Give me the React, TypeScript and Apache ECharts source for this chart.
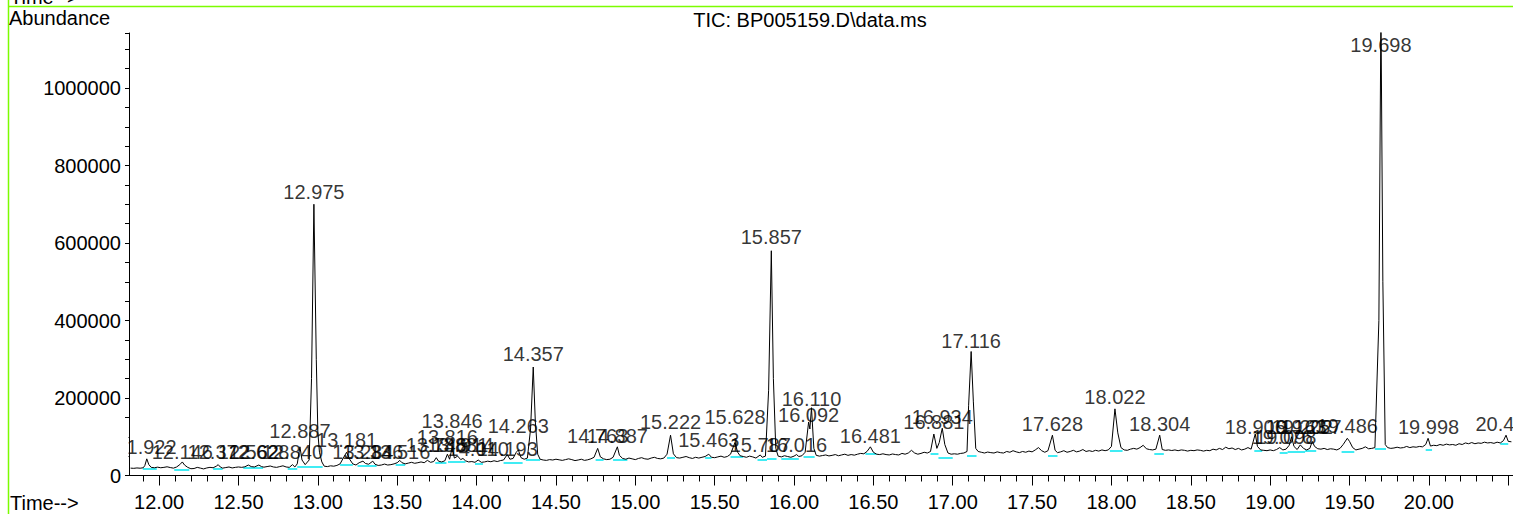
import React, { useEffect, useRef } from "react";
import * as echarts from "echarts";

// Chromatogram trace: [retention time (min), abundance (thousands)]
const trace: [number, number][] = [
  [11.82, 19], [11.84, 18.5], [11.86, 19.5], [11.88, 18.8], [11.9, 20], [11.91, 26], [11.922, 43], [11.935, 28], [11.95, 21], [11.97, 20], [11.99, 21.5],
  [12.01, 20], [12.03, 21], [12.05, 22.5], [12.07, 20.5], [12.09, 19], [12.11, 22], [12.13, 28], [12.146, 35], [12.16, 27], [12.18, 21], [12.2, 17.5],
  [12.22, 18], [12.24, 21], [12.26, 19], [12.28, 17], [12.3, 19.5], [12.32, 21], [12.34, 20], [12.36, 24], [12.372, 28], [12.385, 22], [12.4, 19],
  [12.42, 20.5], [12.44, 22], [12.46, 19.5], [12.48, 21], [12.5, 22], [12.52, 21], [12.54, 22.5], [12.562, 27], [12.58, 23], [12.6, 22], [12.628, 27],
  [12.645, 23], [12.66, 21.5], [12.68, 23], [12.7, 24.5], [12.72, 22], [12.74, 21], [12.76, 23], [12.78, 25], [12.8, 22], [12.82, 21], [12.84, 28],
  [12.855, 22], [12.87, 30], [12.887, 74], [12.9, 40], [12.92, 28], [12.945, 40], [12.96, 250], [12.975, 700], [12.99, 300], [13.0, 110], [13.01, 60],
  [13.025, 35], [13.04, 24], [13.06, 23], [13.08, 25], [13.1, 24], [13.12, 26], [13.14, 30], [13.16, 45], [13.181, 60], [13.2, 42], [13.22, 30],
  [13.24, 27], [13.26, 33], [13.284, 37], [13.3, 31], [13.32, 29], [13.346, 37], [13.36, 29], [13.38, 26], [13.4, 27], [13.42, 29.5], [13.44, 27],
  [13.46, 28], [13.48, 30], [13.5, 33], [13.516, 39], [13.53, 33], [13.55, 30], [13.57, 32], [13.59, 34], [13.61, 31.5], [13.63, 33], [13.65, 35],
  [13.67, 33], [13.69, 39], [13.71, 34], [13.73, 36], [13.746, 46], [13.76, 37], [13.78, 35], [13.8, 38], [13.816, 55], [13.83, 42], [13.846, 72],
  [13.86, 45], [13.881, 50], [13.9, 41], [13.914, 44], [13.93, 38], [13.95, 35], [13.97, 36], [13.99, 34], [14.01, 40], [14.03, 34], [14.05, 35],
  [14.07, 37], [14.09, 35.5], [14.11, 38], [14.13, 36], [14.15, 38.5], [14.17, 40], [14.193, 54], [14.21, 42], [14.23, 44], [14.25, 60], [14.263, 66],
  [14.28, 46], [14.3, 42], [14.32, 45], [14.34, 120], [14.357, 280], [14.37, 140], [14.385, 55], [14.4, 42], [14.42, 40], [14.44, 39], [14.46, 41],
  [14.48, 40], [14.5, 42], [14.52, 40.5], [14.54, 39], [14.56, 41], [14.58, 43], [14.6, 41], [14.62, 38.5], [14.64, 40], [14.66, 42], [14.68, 39],
  [14.7, 40.5], [14.72, 43], [14.74, 47], [14.763, 70], [14.78, 48], [14.8, 43], [14.82, 41], [14.84, 42], [14.86, 47], [14.887, 74], [14.9, 52],
  [14.92, 44], [14.94, 42], [14.96, 45], [14.98, 43], [15.0, 41], [15.02, 44], [15.04, 46], [15.06, 43], [15.08, 42], [15.1, 45], [15.12, 47],
  [15.14, 44], [15.16, 43], [15.18, 45], [15.2, 55], [15.222, 104], [15.24, 56], [15.26, 46], [15.28, 45], [15.3, 47], [15.32, 49], [15.34, 46],
  [15.36, 44], [15.38, 47], [15.4, 45], [15.42, 47], [15.44, 49], [15.463, 55], [15.48, 47], [15.5, 46], [15.52, 48], [15.54, 50], [15.56, 47],
  [15.58, 49], [15.6, 55], [15.628, 85], [15.645, 60], [15.66, 51], [15.68, 49], [15.7, 47], [15.72, 50], [15.74, 48], [15.76, 45], [15.787, 53],
  [15.8, 47], [15.82, 50], [15.84, 220], [15.857, 580], [15.87, 250], [15.885, 70], [15.9, 50], [15.92, 48], [15.94, 51], [15.96, 49], [15.98, 47],
  [16.0, 50], [16.016, 54], [16.03, 49], [16.05, 51], [16.07, 60], [16.092, 138], [16.1, 120], [16.11, 175], [16.125, 70], [16.14, 52], [16.16, 50],
  [16.18, 51.5], [16.2, 53], [16.22, 50.5], [16.24, 52], [16.26, 54], [16.28, 51], [16.3, 53], [16.32, 55], [16.34, 52], [16.36, 54], [16.38, 52.5],
  [16.4, 55], [16.42, 57], [16.44, 56], [16.46, 62], [16.481, 74], [16.5, 60], [16.52, 55], [16.54, 54], [16.56, 56], [16.58, 54], [16.6, 53],
  [16.62, 55.5], [16.64, 54], [16.66, 53], [16.68, 57], [16.7, 55], [16.72, 58], [16.74, 65], [16.76, 58], [16.78, 55], [16.8, 57], [16.82, 60],
  [16.84, 58], [16.86, 62], [16.881, 107], [16.9, 70], [16.915, 85], [16.934, 122], [16.95, 80], [16.97, 58], [16.99, 55], [17.01, 56], [17.03, 55],
  [17.05, 57], [17.07, 58], [17.09, 62], [17.1, 180], [17.116, 320], [17.13, 190], [17.145, 70], [17.16, 62], [17.18, 60], [17.2, 58], [17.22, 60.5],
  [17.24, 59], [17.26, 58], [17.28, 61], [17.3, 59], [17.32, 58], [17.34, 62], [17.36, 60], [17.38, 64], [17.4, 61], [17.42, 59], [17.44, 62],
  [17.46, 60], [17.48, 63], [17.5, 61], [17.52, 66], [17.54, 72], [17.56, 64], [17.58, 60], [17.6, 64], [17.628, 104], [17.645, 65], [17.66, 59],
  [17.68, 61], [17.7, 64], [17.72, 60], [17.74, 62], [17.76, 65], [17.78, 61], [17.8, 63], [17.82, 67], [17.84, 62], [17.86, 64], [17.88, 62],
  [17.9, 65], [17.92, 63], [17.94, 66], [17.96, 64], [17.98, 66], [18.0, 75], [18.022, 172], [18.04, 110], [18.06, 72], [18.08, 66], [18.1, 65],
  [18.12, 68], [18.14, 70], [18.16, 68], [18.18, 72], [18.2, 78], [18.22, 69], [18.24, 67], [18.26, 66], [18.28, 68], [18.304, 104], [18.32, 67],
  [18.34, 65], [18.36, 66], [18.38, 64.5], [18.4, 66], [18.42, 64], [18.44, 66], [18.46, 65], [18.48, 63], [18.5, 65], [18.52, 64], [18.54, 66],
  [18.56, 65], [18.58, 63], [18.6, 65], [18.62, 64], [18.64, 68], [18.66, 66], [18.68, 70], [18.7, 67], [18.72, 73], [18.74, 69], [18.76, 71],
  [18.78, 67], [18.8, 70], [18.82, 66], [18.84, 68], [18.86, 72], [18.88, 68], [18.906, 107], [18.92, 75], [18.94, 66], [18.96, 65], [18.98, 64],
  [19.0, 66], [19.02, 64], [19.04, 67], [19.06, 72], [19.08, 66], [19.1, 68], [19.12, 78], [19.135, 100], [19.15, 75], [19.17, 67], [19.19, 79],
  [19.21, 70], [19.23, 66], [19.25, 70], [19.265, 88], [19.28, 75], [19.3, 69], [19.32, 68], [19.34, 70], [19.36, 67], [19.38, 69], [19.4, 68],
  [19.42, 66], [19.44, 70], [19.46, 80], [19.486, 96], [19.5, 88], [19.52, 72], [19.54, 66], [19.56, 68], [19.58, 70], [19.6, 74], [19.62, 69],
  [19.64, 70], [19.66, 72], [19.685, 400], [19.698, 1200], [19.71, 500], [19.725, 80], [19.74, 72], [19.76, 70], [19.78, 71], [19.8, 73],
  [19.82, 71], [19.84, 72], [19.86, 75], [19.88, 72], [19.9, 74], [19.92, 73], [19.94, 75], [19.96, 74], [19.98, 80], [19.995, 96], [20.01, 76],
  [20.03, 78], [20.05, 77], [20.07, 80], [20.09, 78], [20.11, 81], [20.13, 79], [20.15, 80], [20.17, 78], [20.19, 82], [20.21, 80], [20.23, 84],
  [20.25, 82], [20.27, 85], [20.29, 82], [20.31, 84], [20.33, 83], [20.35, 86], [20.37, 84], [20.39, 85], [20.41, 83], [20.43, 86], [20.45, 84],
  [20.47, 90], [20.486, 104], [20.5, 88], [20.52, 87],
];

// Peak labels: retention time and the abundance (thousands) where each label sits
const peakTimes = [
  11.922, 12.146, 12.372, 12.562, 12.628, 12.84, 12.887, 12.975, 13.181, 13.284, 13.346, 13.516, 13.746, 13.816, 13.846, 13.881, 13.914,
  14.01, 14.193, 14.263, 14.357, 14.763, 14.887, 15.222, 15.463, 15.628, 15.787, 15.857, 16.016, 16.092, 16.11, 16.481, 16.881, 16.934,
  17.116, 17.628, 18.022, 18.304, 18.906, 19.076, 19.098, 19.163, 19.202, 19.257, 19.486, 19.698, 19.998, 20.486,
];
const peakLabelLevels = [
  73.5, 60.6, 60.6, 60.6, 60.6, 60.6, 114.8, 731.6, 92.9, 60.6, 60.6, 60.6, 78.7, 99.4, 140.6, 78.7, 78.7,
  68.4, 68.4, 127.7, 313.5, 101.9, 101.9, 138, 91.6, 151, 78.7, 615.5, 78.7, 156, 197.4, 101.9, 138, 149.7,
  347, 132.9, 202.6, 132.9, 125.2, 99.4, 99.4, 125.2, 125.2, 125.2, 129, 1111, 123.9, 132.9,
];

// Integration baselines: [start time, end time, abundance (thousands)]
const baselines: [number, number, number][] = [
  [11.897, 11.985, 18.6], [12.095, 12.19, 16], [12.34, 12.4, 18.6], [12.53, 12.655, 19.4], [12.81, 12.87, 18.6], [12.87, 13.03, 22],
  [13.14, 13.22, 29], [13.25, 13.37, 26], [13.49, 13.55, 29], [13.74, 13.81, 33], [13.82, 13.93, 36], [13.99, 14.04, 30],
  [14.17, 14.29, 33], [14.31, 14.4, 40], [14.75, 14.8, 40], [14.86, 14.95, 40], [15.2, 15.25, 45], [15.44, 15.48, 45],
  [15.6, 15.68, 48.5], [15.77, 15.83, 40], [15.83, 15.89, 43], [15.92, 16.03, 42], [16.06, 16.13, 48.5], [16.45, 16.52, 55.5],
  [16.86, 16.91, 55.5], [16.91, 17.0, 47], [17.09, 17.15, 50], [17.6, 17.66, 50], [17.99, 18.07, 64], [18.27, 18.33, 55.5],
  [18.9, 18.95, 64], [19.06, 19.11, 59], [19.11, 19.22, 60.5], [19.22, 19.29, 64], [19.45, 19.53, 60.5], [19.66, 19.73, 70],
  [19.98, 20.02, 67.5], [20.45, 20.5, 83],
];

const xMajorTicks = [12.0, 12.5, 13.0, 13.5, 14.0, 14.5, 15.0, 15.5, 16.0, 16.5, 17.0, 17.5, 18.0, 18.5, 19.0, 19.5, 20.0, 20.5];
const xTickLabels = [12.0, 12.5, 13.0, 13.5, 14.0, 14.5, 15.0, 15.5, 16.0, 16.5, 17.0, 17.5, 18.0, 18.5, 19.0, 19.5, 20.0];
const xMinorTicks = [
  11.9, 12.1, 12.2, 12.3, 12.4, 12.6, 12.7, 12.8, 12.9, 13.1, 13.2, 13.3, 13.4, 13.6, 13.7, 13.8, 13.9, 14.1, 14.2, 14.3, 14.4,
  14.6, 14.7, 14.8, 14.9, 15.1, 15.2, 15.3, 15.4, 15.6, 15.7, 15.8, 15.9, 16.1, 16.2, 16.3, 16.4, 16.6, 16.7, 16.8, 16.9,
  17.1, 17.2, 17.3, 17.4, 17.6, 17.7, 17.8, 17.9, 18.1, 18.2, 18.3, 18.4, 18.6, 18.7, 18.8, 18.9, 19.1, 19.2, 19.3, 19.4,
  19.6, 19.7, 19.8, 19.9, 20.1, 20.2, 20.3, 20.4,
];

const FONT = "'Liberation Sans', Arial, sans-serif";

export default function App() {
  const ref = useRef<HTMLDivElement>(null);
  useEffect(() => {
    document.body.style.margin = "0";
    if (!ref.current) return;
    const chart = echarts.init(ref.current, undefined, { renderer: "svg" });
    const K = 1000;
    chart.setOption({
      animation: false,
      backgroundColor: "#fff",
      textStyle: { fontFamily: FONT },
      grid: { left: 129, right: 0, top: 33, bottom: 38.5, containLabel: false, outerBoundsMode: "none" },
      xAxis: [
        {
          type: "value",
          min: 11.81,
          max: 20.53,
          position: "bottom",
          axisLine: { show: true, lineStyle: { color: "#000", width: 1 } },
          axisTick: { show: true, customValues: xMajorTicks, length: 10, lineStyle: { color: "#000" } },
          axisLabel: {
            show: true,
            customValues: xTickLabels,
            formatter: (v: number) => v.toFixed(2),
            color: "#000",
            fontSize: 20,
            fontFamily: FONT,
            margin: 16,
          },
          splitLine: { show: false },
        },
        {
          type: "value",
          min: 11.81,
          max: 20.53,
          position: "bottom",
          axisLine: { show: false },
          axisTick: { show: true, customValues: xMinorTicks, length: 6, lineStyle: { color: "#000" } },
          axisLabel: { show: false },
          splitLine: { show: false },
        },
      ],
      yAxis: {
        type: "value",
        min: 0,
        max: 1142000,
        interval: 200000,
        axisLine: { show: true, lineStyle: { color: "#000", width: 1 } },
        axisTick: { show: true, length: 4, lineStyle: { color: "#000" } },
        minorTick: { show: true, splitNumber: 4, length: 4, lineStyle: { color: "#000" } },
        axisLabel: {
          color: "#000",
          fontSize: 20,
          fontFamily: FONT,
          margin: 8,
          formatter: (v: number) => (v % 200000 === 0 ? String(v) : ""),
        },
        splitLine: { show: false },
      },
      series: [
        {
          type: "line",
          data: trace.map(([t, a]) => [t, a * K]),
          showSymbol: false,
          symbol: "none",
          clip: true,
          lineStyle: { color: "#000", width: 1 },
          z: 3,
        },
        {
          type: "lines",
          coordinateSystem: "cartesian2d",
          polyline: false,
          data: baselines.map(([s, e, a]) => ({ coords: [[s, a * K], [e, a * K]] })),
          lineStyle: { color: "#00E6F0", width: 1.6, opacity: 1 },
          z: 2,
        },
        {
          type: "scatter",
          symbol: "rect",
          symbolSize: 1,
          itemStyle: { color: "transparent" },
          data: peakTimes.map((t, i) => ({ value: [t, peakLabelLevels[i] * K], name: t.toFixed(3) })),
          label: {
            show: true,
            position: "inside",
            formatter: "{b}",
            color: "#000",
            fontSize: 20,
            fontFamily: FONT,
          },
          z: 4,
        },
      ],
      graphic: [
        { type: "rect", z: 100, shape: { x: 9, y: 436, width: 119.5, height: 26 }, style: { fill: "#fff" } },
        { type: "line", z: 101, shape: { x1: 8, y1: 6.5, x2: 1513, y2: 6.5 }, style: { stroke: "#7CFC00", lineWidth: 1.5 } },
        { type: "line", z: 101, shape: { x1: 8.5, y1: 0, x2: 8.5, y2: 514 }, style: { stroke: "#7CFC00", lineWidth: 1.5 } },
        { type: "text", z: 101, x: 10, y: -13, style: { text: "Time-->", fontSize: 20, fontFamily: FONT, fill: "#000" } },
        { type: "text", z: 101, x: 9, y: 8, style: { text: "Abundance", fontSize: 20, fontFamily: FONT, fill: "#000" } },
        {
          type: "text",
          z: 101,
          x: 810,
          y: 10,
          style: { text: "TIC: BP005159.D\\data.ms", fontSize: 20, fontFamily: FONT, fill: "#000", align: "center" },
        },
        { type: "text", z: 101, x: 10, y: 493, style: { text: "Time-->", fontSize: 20, fontFamily: FONT, fill: "#000" } },
      ],
    });
    return () => chart.dispose();
  }, []);
  return <div ref={ref} style={{ width: 1513, height: 514 }} />;
}
